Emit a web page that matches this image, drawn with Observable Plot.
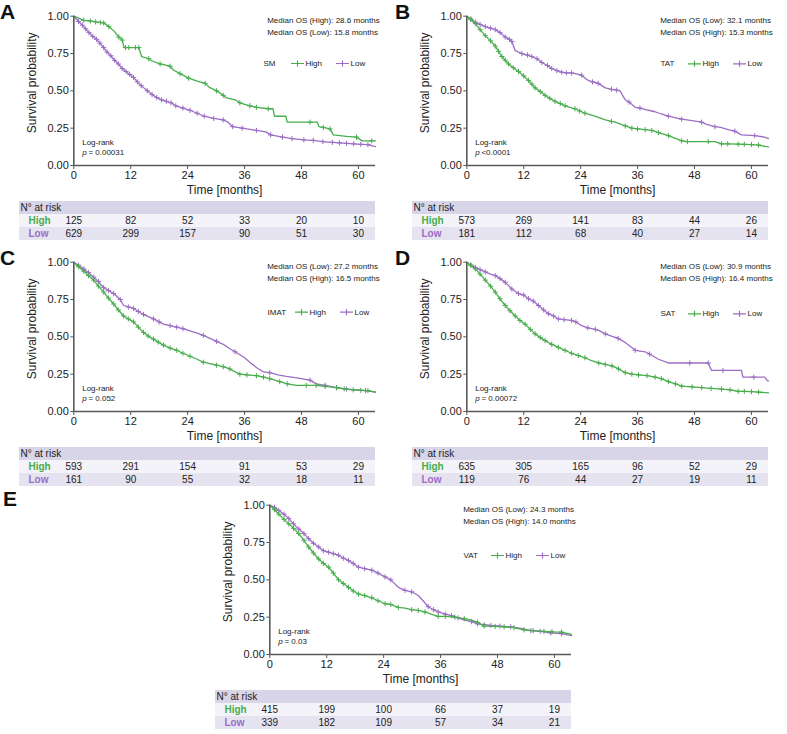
<!DOCTYPE html>
<html><head><meta charset="utf-8">
<script src="https://cdn.jsdelivr.net/npm/d3@7"></script>
<script src="https://cdn.jsdelivr.net/npm/@observablehq/plot@0.6"></script>
<style>
body{margin:0;background:#fff;}
#root{position:relative;width:787px;height:734px;overflow:hidden;font-family:"Liberation Sans",Arial,sans-serif;}
.letter{position:absolute;font-weight:bold;font-size:21px;line-height:21px;color:#111;}
#root svg{position:absolute;}
</style></head><body><div id="root"></div>
<script>
// ---------- DATA ----------
const timeTicks = [0, 12, 24, 36, 48, 60];
const yTicks = [0, 0.25, 0.5, 0.75, 1];
const panelLetters = ["A", "B", "C", "D", "E"];
const variables = ["SM", "TAT", "IMAT", "SAT", "VAT"];
const medianLine1 = ["Median OS (High): 28.6 months", "Median OS (Low): 32.1 months", "Median OS (Low): 27.2 months", "Median OS (Low): 30.9 months", "Median OS (Low): 24.3 months"];
const medianLine2 = ["Median OS (Low): 15.8 months", "Median OS (High): 15.3 months", "Median OS (High): 16.5 months", "Median OS (High): 16.4 months", "Median OS (High): 14.0 months"];
const pValues = ["= 0.00031", "<0.0001", "= 0.052", "= 0.00072", "= 0.03"];
const groups = ["High", "Low"];

const riskHighA = [125, 82, 52, 33, 20, 10];
const riskLowA  = [629, 299, 157, 90, 51, 30];
const riskHighB = [573, 269, 141, 83, 44, 26];
const riskLowB  = [181, 112, 68, 40, 27, 14];
const riskHighC = [593, 291, 154, 91, 53, 29];
const riskLowC  = [161, 90, 55, 32, 18, 11];
const riskHighD = [635, 305, 165, 96, 52, 29];
const riskLowD  = [119, 76, 44, 27, 19, 11];
const riskHighE = [415, 199, 100, 66, 37, 19];
const riskLowE  = [339, 182, 109, 57, 34, 21];

// curves: [time (months), survival, censored mark (1/0)]
const highA = [[0,1,0],[2.1,0.972,1],[3.5,0.968,1],[4.6,0.962,1],[5.6,0.958,1],[6.3,0.955,1],[7.4,0.93,1],[8.5,0.90,0],[9.5,0.86,1],[10.2,0.84,1],[10.6,0.79,0],[10.9,0.79,1],[11.6,0.79,1],[13,0.79,1],[13.7,0.79,1],[14.3,0.73,0],[15.8,0.715,1],[16.5,0.70,0],[18.2,0.68,1],[20.3,0.665,1],[21,0.64,0],[22.4,0.615,1],[24.2,0.585,1],[26,0.565,0],[27.7,0.55,1],[28.5,0.525,0],[30.1,0.50,1],[31.5,0.47,1],[32,0.455,0],[34,0.44,0],[35,0.42,1],[37.1,0.40,1],[38.5,0.39,1],[41,0.38,1],[42,0.38,0],[42.3,0.33,0],[44.7,0.33,0],[45,0.29,0],[49.8,0.29,1],[51.3,0.29,0],[51.7,0.26,0],[52.6,0.255,1],[54,0.245,1],[54.7,0.205,0],[57.5,0.195,0],[59.6,0.19,1],[60.8,0.165,0],[62.8,0.165,1],[63.6,0.165,0]];
const lowA = [[0,1,0],[1,0.965,1],[1.8,0.94,1],[2.5,0.915,1],[3.2,0.89,1],[4,0.865,1],[4.8,0.845,1],[5.5,0.82,1],[6.3,0.79,1],[7,0.76,1],[7.8,0.735,1],[8.6,0.705,1],[9.4,0.68,1],[10.2,0.65,1],[11,0.63,1],[11.8,0.61,1],[12.6,0.59,1],[13.4,0.56,1],[14.2,0.535,1],[15.5,0.50,1],[16.5,0.475,1],[17.5,0.455,1],[18.5,0.44,1],[19.5,0.43,1],[20.5,0.42,1],[21.5,0.40,1],[23,0.385,1],[24.5,0.37,1],[26,0.35,1],[27.5,0.33,1],[29.5,0.315,1],[31.5,0.305,1],[32.5,0.29,0],[33.5,0.26,1],[35.5,0.25,1],[38.5,0.235,1],[40.5,0.225,0],[41.5,0.205,1],[44,0.19,1],[46,0.18,1],[48.5,0.172,1],[50.5,0.168,1],[52.5,0.16,1],[54.5,0.155,1],[56,0.152,1],[57.5,0.148,1],[59,0.145,1],[60.5,0.142,1],[62,0.14,1],[63.1,0.13,0],[63.6,0.127,0]];
const highB = [[0,1,0],[0.8,0.98,1],[1.8,0.95,1],[2.8,0.91,1],[3.9,0.87,1],[5,0.835,1],[6,0.80,1],[6.7,0.765,1],[7.4,0.73,1],[8.1,0.705,1],[8.8,0.68,1],[9.8,0.655,1],[10.9,0.63,1],[12,0.60,1],[13,0.57,1],[13.7,0.545,1],[14.4,0.52,1],[15.5,0.495,1],[16.5,0.47,1],[17.5,0.45,1],[18.6,0.43,1],[19.7,0.415,1],[20.7,0.40,1],[22.8,0.38,1],[23.8,0.365,1],[24.9,0.35,1],[27,0.33,0],[29.2,0.305,0],[30.5,0.295,1],[31.3,0.29,0],[33.4,0.265,1],[34.8,0.25,1],[36,0.245,1],[37.6,0.24,1],[39,0.235,1],[40.4,0.22,1],[42.5,0.20,1],[45.3,0.165,1],[46.5,0.16,1],[48.1,0.16,0],[50.9,0.16,1],[52.3,0.16,0],[53.7,0.145,1],[55,0.145,1],[57.2,0.143,1],[58.5,0.142,1],[60,0.14,1],[61.5,0.137,1],[63.1,0.127,0],[63.6,0.125,0]];
const lowB = [[0,1,0],[0.9,0.98,1],[1.8,0.96,1],[2.8,0.945,1],[3.9,0.93,1],[5,0.92,1],[6,0.91,1],[7,0.89,1],[8.1,0.86,1],[9,0.845,1],[9.5,0.83,1],[10.2,0.77,0],[11.6,0.75,1],[12.8,0.74,1],[13.7,0.73,1],[14.8,0.715,1],[15.8,0.69,1],[17,0.67,1],[17.9,0.65,1],[19,0.635,1],[20,0.625,1],[21,0.62,1],[22.1,0.62,1],[23.5,0.61,0],[24.2,0.605,1],[25.6,0.57,0],[26.5,0.56,1],[27.7,0.55,1],[29.2,0.52,0],[30.5,0.51,1],[31.6,0.505,1],[32.3,0.50,0],[33.4,0.44,0],[34.2,0.425,1],[35.5,0.39,0],[36.5,0.385,1],[38.3,0.37,0],[39.7,0.36,0],[41,0.345,0],[42.5,0.33,1],[45.3,0.31,1],[47.5,0.30,0],[49.5,0.29,1],[50.5,0.275,0],[52.3,0.26,1],[53.5,0.255,0],[55.1,0.24,0],[56.5,0.23,1],[57.9,0.205,0],[60.7,0.20,1],[62.8,0.19,0],[63.6,0.18,0]];
const highC = [[0,1,0],[1,0.97,1],[2.1,0.94,1],[3.1,0.91,1],[4.2,0.88,1],[5.2,0.84,1],[6.3,0.80,1],[7.3,0.76,1],[8.4,0.72,1],[9.4,0.68,1],[10.5,0.64,1],[11.5,0.62,1],[12.6,0.60,1],[13.6,0.565,1],[14.7,0.53,1],[15.7,0.505,1],[16.8,0.485,1],[17.8,0.465,1],[18.9,0.445,1],[20.3,0.425,1],[21.7,0.41,1],[23,0.39,1],[24.5,0.37,1],[26,0.35,0],[27.3,0.33,1],[28.7,0.32,0],[30.1,0.31,1],[31.5,0.30,1],[32.9,0.285,1],[34,0.265,0],[35,0.25,1],[36.5,0.245,1],[38.5,0.24,1],[40,0.23,1],[41.3,0.22,1],[43.4,0.20,1],[45,0.185,1],[46.9,0.175,0],[49,0.175,1],[51.1,0.175,1],[53,0.168,1],[55.4,0.16,1],[57,0.152,1],[58.9,0.145,1],[60.5,0.142,1],[62,0.14,1],[63.6,0.13,0]];
const lowC = [[0,1,0],[1,0.98,1],[2.1,0.955,1],[3.1,0.93,1],[4.2,0.90,1],[5.2,0.87,1],[6.3,0.83,1],[7.3,0.81,1],[8.4,0.79,1],[9.8,0.75,1],[10.5,0.71,0],[11.5,0.70,1],[12.6,0.69,1],[13.6,0.67,1],[14.7,0.65,1],[15.7,0.635,0],[16.8,0.62,1],[18,0.60,1],[18.9,0.585,0],[20.3,0.575,1],[21.7,0.565,1],[23,0.555,1],[24.5,0.54,0],[26,0.525,0],[27.3,0.51,1],[28.7,0.49,0],[30.1,0.47,1],[31.5,0.45,0],[32.9,0.42,0],[34,0.40,1],[35,0.38,0],[36,0.36,0],[37.1,0.33,0],[38.5,0.295,0],[40,0.265,0],[41.3,0.26,1],[43,0.245,0],[44.8,0.235,0],[47,0.225,0],[49.8,0.21,1],[51.1,0.185,0],[53,0.175,1],[55.4,0.16,1],[57.5,0.15,1],[59.6,0.145,0],[61.5,0.14,1],[63.6,0.13,0]];
const highD = [[0,1,0],[0.8,0.98,1],[1.8,0.955,1],[2.8,0.92,1],[3.9,0.88,1],[5,0.84,1],[6,0.80,1],[7,0.755,1],[8.1,0.71,1],[9.1,0.675,1],[10.2,0.64,1],[11.2,0.61,1],[12.3,0.585,1],[13.4,0.55,1],[14.4,0.52,1],[15.5,0.495,1],[16.5,0.475,1],[17.9,0.45,1],[19.3,0.43,1],[20.7,0.41,1],[22.1,0.39,1],[23.5,0.375,1],[24.9,0.36,1],[26.3,0.34,0],[27.8,0.325,1],[29.2,0.315,1],[30.6,0.305,1],[32,0.285,1],[33.4,0.26,1],[34.8,0.25,1],[36.2,0.245,1],[38,0.24,1],[39.7,0.23,1],[41,0.22,1],[42.5,0.20,1],[44,0.185,1],[45.3,0.17,1],[47.5,0.165,1],[49.5,0.16,1],[51.5,0.155,1],[53.7,0.15,1],[55.5,0.145,1],[57.2,0.135,1],[58.5,0.135,1],[60,0.133,1],[61.5,0.13,1],[63.6,0.125,0]];
const lowD = [[0,1,0],[0.9,0.98,1],[1.8,0.965,1],[2.8,0.95,1],[3.9,0.935,1],[5,0.92,0],[6,0.91,1],[7,0.89,1],[8.1,0.865,1],[9.5,0.82,1],[10.9,0.79,1],[12,0.78,1],[13,0.755,1],[14,0.74,1],[15.1,0.71,1],[16.2,0.68,1],[17.2,0.655,1],[18.3,0.64,1],[19.3,0.62,1],[20.5,0.615,1],[22.1,0.61,1],[23,0.60,1],[24.2,0.575,0],[25.5,0.56,1],[27.1,0.55,1],[28,0.54,0],[29.2,0.52,1],[30.5,0.505,0],[31.9,0.49,1],[33,0.47,0],[34.1,0.445,0],[35.5,0.41,1],[37.6,0.40,0],[38.5,0.385,1],[40.4,0.35,0],[42.5,0.325,0],[47,0.325,1],[50.9,0.325,1],[51.6,0.275,0],[54,0.275,1],[57.9,0.275,0],[58.2,0.23,0],[60.5,0.23,1],[62.8,0.23,0],[63.4,0.205,0],[63.6,0.205,0]];
const highE = [[0,1,0],[1,0.97,1],[1.9,0.94,1],[3,0.905,1],[4,0.875,1],[5,0.845,1],[6.1,0.81,1],[7.2,0.765,1],[8.2,0.72,1],[9.2,0.68,1],[10.3,0.64,1],[11.3,0.61,1],[12.4,0.585,1],[13.4,0.545,1],[14.5,0.50,1],[15.5,0.475,1],[16.6,0.45,1],[17.6,0.425,1],[18.7,0.405,1],[20,0.395,1],[21.5,0.38,1],[22.8,0.36,1],[24.3,0.34,1],[25.5,0.335,1],[27.1,0.315,1],[28.5,0.31,0],[29.9,0.30,1],[31.3,0.295,1],[32.7,0.285,1],[34,0.27,0],[35.5,0.255,1],[37,0.255,1],[39,0.25,1],[41,0.24,1],[42.5,0.23,0],[43.8,0.215,1],[45.2,0.19,1],[47.5,0.188,1],[49.4,0.185,1],[51.5,0.18,1],[53.6,0.165,1],[55.5,0.16,1],[57.8,0.155,1],[59.5,0.152,1],[61.5,0.15,1],[63.6,0.135,0]];
const lowE = [[0,1,0],[1,0.985,1],[1.9,0.965,1],[3,0.94,1],[4,0.91,1],[5,0.875,1],[6.1,0.84,1],[7.2,0.81,1],[8.2,0.775,1],[9.2,0.745,1],[10.3,0.72,1],[11.3,0.695,1],[12.4,0.685,1],[13.4,0.675,1],[14.5,0.665,1],[15.5,0.645,1],[16.6,0.63,1],[17.6,0.61,1],[18.7,0.585,1],[20,0.575,1],[21.5,0.565,1],[22.8,0.545,1],[24.3,0.52,1],[25.5,0.50,1],[27.1,0.45,0],[28.5,0.43,1],[29.9,0.42,1],[31.3,0.395,0],[32.3,0.36,0],[33.4,0.32,1],[34.5,0.30,1],[35.5,0.285,1],[37,0.27,1],[38.3,0.26,1],[39.7,0.245,1],[41,0.23,0],[42.5,0.22,1],[43.8,0.205,1],[45.2,0.20,1],[46.6,0.195,1],[48.5,0.19,1],[50.8,0.185,1],[53,0.175,0],[55,0.16,1],[57,0.155,1],[59.2,0.145,1],[61.5,0.14,1],[63.6,0.127,0]];

// ---------- LAYOUT / STYLE ----------
const GREEN = "#48ad4d", PURPLE = "#9b6dc4";
const FONT = "'Liberation Sans', Arial, Helvetica, sans-serif";
const panelPos = [[0, 0], [393.4, 0], [0, 246], [393.4, 246], [196, 489]];
const letterPos = [[0, 0.5], [395, 0.5], [0, 247.2], [395, 247.2], [3, 488]];
const legendDy = [47.3, 47.6, 50, 51.6, 50.3];
const legendShift = [-4, 0, 0, 0, 0];
const curvesHigh = [highA, highB, highC, highD, highE];
const curvesLow = [lowA, lowB, lowC, lowD, lowE];
const risksHigh = [riskHighA, riskHighB, riskHighC, riskHighD, riskHighE];
const risksLow = [riskLowA, riskLowB, riskLowC, riskLowD, riskLowE];
const X_DOMAIN = [0, 63.6];

const plusSym = {draw(ctx, size) { const a = Math.sqrt(size / Math.PI); ctx.moveTo(-a, 0); ctx.lineTo(a, 0); ctx.moveTo(0, -a); ctx.lineTo(0, a); }};
const legendSym = {draw(ctx) { ctx.moveTo(-6.5, 0); ctx.lineTo(6.5, 0); ctx.moveTo(0, -3); ctx.lineTo(0, 3); }};

const root = document.getElementById("root");
const toObj = arr => arr.map(([t, s, c]) => ({t, s, c}));

function curveMarks(data, color) {
  const d = toObj(data);
  return [
    Plot.line(d, {x: "t", y: "s", stroke: color, strokeWidth: 1.3}),
    Plot.dot(d.filter(p => p.c), {x: "t", y: "s", symbol: plusSym, r: 2.6, stroke: color, fill: "none", strokeWidth: 1})
  ];
}

for (let i = 0; i < 5; i++) {
  const [left, top] = panelPos[i];
  const txt = (s, o) => Plot.text([s], Object.assign({fontSize: 8, fill: "#222", textAnchor: "start", lineAnchor: "middle"}, o));
  const lg = legendDy[i], sh = legendShift[i];
  const km = Plot.plot({
    width: 390, height: 200,
    marginLeft: 73.3, marginRight: 15, marginTop: 15.7, marginBottom: 35,
    x: {domain: X_DOMAIN},
    y: {domain: [0, 1]},
    style: {fontFamily: FONT, fontSize: "11px", color: "#222", background: "transparent", overflow: "visible"},
    marks: [
      Plot.axisX({ticks: timeTicks, tickSize: 4, tickPadding: 2, label: null, stroke: "#555", fontSize: 11}),
      Plot.axisY({ticks: yTicks, tickFormat: d3.format(".2f"), tickSize: 3, tickPadding: 2, label: null, stroke: "#555", fontSize: 11}),
      ...curveMarks(curvesLow[i], PURPLE),
      ...curveMarks(curvesHigh[i], GREEN),
      Plot.ruleX([0], {stroke: "#5a5a5a", strokeWidth: 1.6}),
      Plot.ruleY([0], {stroke: "#5a5a5a", strokeWidth: 1.6}),
      Plot.text(["Survival probability"], {frameAnchor: "left", textAnchor: "middle", lineAnchor: "middle", rotate: -90, dx: -41.6, dy: -8, fontSize: 12, fill: "#222"}),
      Plot.text(["Time [months]"], {frameAnchor: "bottom", textAnchor: "middle", dy: 25, fontSize: 12, fill: "#222", lineAnchor: "middle"}),
      txt(medianLine1[i], {frameAnchor: "top-right", dx: -108.3, dy: 4.5}),
      txt(medianLine2[i], {frameAnchor: "top-right", dx: -108.3, dy: 16.3}),
      txt(variables[i], {frameAnchor: "top-right", dx: -108 + sh, dy: lg}),
      Plot.dot([0], {frameAnchor: "top-right", dx: -74 + sh, dy: lg, symbol: legendSym, stroke: GREEN, fill: "none", strokeWidth: 1.2}),
      txt(groups[0], {frameAnchor: "top-right", dx: -66 + sh, dy: lg}),
      Plot.dot([0], {frameAnchor: "top-right", dx: -29 + sh, dy: lg, symbol: legendSym, stroke: PURPLE, fill: "none", strokeWidth: 1.2}),
      txt(groups[1], {frameAnchor: "top-right", dx: -21 + sh, dy: lg}),
      txt("Log-rank", {frameAnchor: "bottom-left", dx: 8.4, dy: -23}),
      txt("p", {frameAnchor: "bottom-left", dx: 8.4, dy: -13, fontStyle: "italic"}),
      txt(pValues[i], {frameAnchor: "bottom-left", dx: 14.6, dy: -13})
    ]
  });
  km.style.left = left + "px";
  km.style.top = top + "px";
  root.appendChild(km);

  const rows = ["hdr", "High", "Low"];
  const rh = risksHigh[i], rl = risksLow[i];
  const tbl = Plot.plot({
    width: 390, height: 41,
    marginLeft: 19, marginRight: 15, marginTop: 0, marginBottom: 0,
    x: {domain: X_DOMAIN, range: [73.3, 375], axis: null},
    y: {domain: rows, padding: 0, axis: null},
    style: {fontFamily: FONT, fontSize: "10px", color: "#222", background: "transparent", overflow: "visible"},
    marks: [
      Plot.cell(["hdr"], {y: d => d, fill: "#d9d5e8"}),
      Plot.cell(["High"], {y: d => d, fill: "#f4f3f9"}),
      Plot.cell(["Low"], {y: d => d, fill: "#e6e3f1"}),
      Plot.text(["N° at risk"], {y: d => "hdr", frameAnchor: "left", textAnchor: "start", dx: 1, fill: "#222", fontSize: 10}),
      Plot.text([groups[0]], {y: d => "High", frameAnchor: "left", textAnchor: "start", dx: 9, fill: GREEN, fontWeight: "bold", fontSize: 10}),
      Plot.text([groups[1]], {y: d => "Low", frameAnchor: "left", textAnchor: "start", dx: 9, fill: PURPLE, fontWeight: "bold", fontSize: 10}),
      Plot.text(timeTicks, {x: d => d, y: d => "High", text: (d, j) => String(rh[j]), fill: "#222", fontSize: 10}),
      Plot.text(timeTicks, {x: d => d, y: d => "Low", text: (d, j) => String(rl[j]), fill: "#222", fontSize: 10})
    ]
  });
  tbl.style.left = left + "px";
  tbl.style.top = (top + 200) + "px";
  root.appendChild(tbl);

  const L = document.createElement("div");
  L.className = "letter";
  L.textContent = panelLetters[i];
  L.style.left = letterPos[i][0] + "px";
  L.style.top = letterPos[i][1] + "px";
  root.appendChild(L);
}
</script></body></html>
